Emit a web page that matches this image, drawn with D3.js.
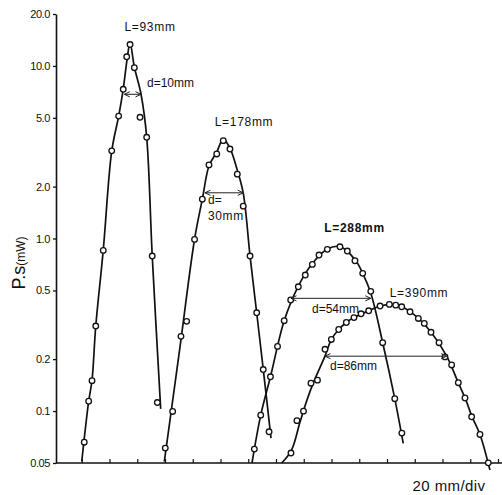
<!DOCTYPE html>
<html>
<head>
<meta charset="utf-8">
<script src="https://cdn.jsdelivr.net/npm/d3@7"></script>
<style>
  body { margin: 0; background: #fff; }
  text { font-family: "Liberation Sans", Arial, sans-serif; fill: #111; }
</style>
</head>
<body>
<svg id="chart" width="502" height="495"></svg>
<script>
// ---- axis ticks ----
const powerTicks = [20, 10, 5, 2, 1, 0.5, 0.2, 0.1, 0.05];
const powerTickLabels = ["20.0", "10.0", "5.0", "2.0", "1.0", "0.5", "0.2", "0.1", "0.05"];
const positionTicks = d3.range(20, 321, 20);   // 20 mm per division

// ---- L = 93 mm : measured points (position mm, P.s mW) and fitted curve ----
const l93Pos = [21.8, 25.0, 27.4, 30.1, 35.5, 41.6, 46.6, 49.9, 52.4, 54.8, 57.9, 62.0, 66.8, 70.8, 74.5];
const l93Pow = [0.066, 0.114, 0.150, 0.311, 0.853, 3.22, 5.12, 7.32, 11.3, 13.3, 9.77, 5.04, 3.86, 0.791, 0.112];
const l93FitPos = [20.0, 25.0, 27.4, 30.1, 35.5, 41.6, 46.6, 49.9, 52.6, 54.8, 57.9, 62.7, 66.8, 70.8, 76.9];
const l93FitPow = [0.051, 0.114, 0.151, 0.311, 0.857, 3.21, 5.12, 7.35, 10.8, 13.6, 9.86, 6.88, 3.87, 0.791, 0.103];

// ---- L = 178 mm ----
const l178Pos = [80.2, 85.5, 91.5, 95.6, 101.3, 106.9, 111.7, 117.3, 122.0, 126.8, 132.1, 136.4, 141.3, 146.1, 150.8, 155.0];
const l178Pow = [0.061, 0.0995, 0.271, 0.331, 0.988, 1.69, 2.67, 3.09, 3.69, 3.30, 2.36, 1.54, 0.791, 0.371, 0.174, 0.0758];
const l178FitPos = [79.5, 90.5, 101.3, 106.9, 111.7, 117.3, 122.0, 126.8, 132.1, 136.4, 141.3, 146.1, 150.8, 156.4];
const l178FitPow = [0.051, 0.2255, 0.99, 1.69, 2.63, 3.17, 3.77, 3.34, 2.49, 1.83, 0.791, 0.370, 0.175, 0.0697];

// ---- L = 288 mm ----
const l288Pos = [144.4, 149.0, 156.0, 161.1, 165.9, 170.6, 176.1, 181.1, 186.2, 191.0, 197.0, 206.1, 211.4, 216.9, 222.5, 228.3, 236.9, 245.6, 250.7];
const l288Pow = [0.0602, 0.0947, 0.158, 0.237, 0.334, 0.440, 0.525, 0.614, 0.708, 0.802, 0.865, 0.895, 0.846, 0.743, 0.628, 0.494, 0.249, 0.118, 0.0745];
const l288FitPos = [142.7, 149.0, 156.0, 165.9, 176.1, 186.2, 197.0, 206.1, 216.9, 222.5, 228.3, 236.9, 245.6, 251.7];
const l288FitPow = [0.050, 0.0947, 0.158, 0.334, 0.530, 0.716, 0.869, 0.897, 0.755, 0.628, 0.483, 0.249, 0.118, 0.0649];

// ---- L = 390 mm ----
const l390Pos = [170.8, 175.1, 179.8, 185.2, 189.9, 195.3, 199.9, 205.2, 210.7, 216.2, 221.3, 226.8, 235.0, 241.7, 246.3, 250.6, 256.6, 262.6, 266.9, 271.7, 277.5, 281.8, 286.6, 291.4, 296.2, 301.0, 307.0, 313.0];
const l390Pow = [0.0571, 0.088, 0.0999, 0.145, 0.151, 0.228, 0.260, 0.297, 0.326, 0.348, 0.366, 0.381, 0.406, 0.415, 0.411, 0.402, 0.376, 0.344, 0.322, 0.286, 0.249, 0.206, 0.185, 0.146, 0.119, 0.0926, 0.0732, 0.0501];
const l390FitPos = [164.1, 171.2, 177.3, 182.3, 187.4, 195.3, 200.0, 205.2, 210.7, 216.2, 226.8, 235.0, 243.6, 250.6, 256.6, 262.6, 271.7, 283.0, 291.2, 296.9, 301.3, 307.0, 314.2];
const l390FitPow = [0.050, 0.0594, 0.0863, 0.1157, 0.149, 0.208, 0.261, 0.297, 0.326, 0.348, 0.381, 0.406, 0.415, 0.402, 0.377, 0.345, 0.287, 0.208, 0.147, 0.1157, 0.0926, 0.0732, 0.0455];

// ---- beam-width arrows: label, from (mm), to (mm), level (mW) ----
const widthLabels = ["d=10mm", "d=30mm", "d=54mm", "d=86mm"];
const widthFrom = [50.7, 108.8, 170.8, 195.3];
const widthTo = [62.7, 136.4, 228.3, 283.0];
const widthLevel = [6.85, 1.84, 0.450, 0.208];

// ---- curve labels ----
const curveLabels = ["L=93mm", "L=178mm", "L=288mm", "L=390mm"];

const svg = d3.select("#chart");
svg.append("rect").attr("width", 502).attr("height", 495).attr("fill", "#fff");

const x = d3.scaleLinear().domain([0, 320]).range([54, 498]);
const y = d3.scaleLog().domain([0.05, 20]).range([463, 14]);
const axisX = 56;

// open arrowhead, tip at the line end, pointing outward
svg.append("defs").append("marker")
  .attr("id", "head")
  .attr("viewBox", "-7 -4 8 8")
  .attr("refX", 0).attr("refY", 0)
  .attr("markerWidth", 8).attr("markerHeight", 8)
  .attr("markerUnits", "userSpaceOnUse")
  .attr("orient", "auto-start-reverse")
  .append("path")
  .attr("d", "M-5.5,-2.6 L0,0 L-5.5,2.6")
  .attr("fill", "none").attr("stroke", "#222").attr("stroke-width", 1);

// y axis (logarithmic)
const yAxis = svg.append("g")
  .attr("transform", `translate(${axisX},0)`)
  .call(d3.axisLeft(y)
    .tickValues(powerTicks)
    .tickFormat((d, i) => powerTickLabels[i])
    .tickSizeInner(3).tickSizeOuter(0).tickPadding(3));
yAxis.select(".domain").attr("stroke", "#111").attr("stroke-width", 1.6);
yAxis.selectAll(".tick line").attr("stroke", "#111").attr("stroke-width", 1.3);
yAxis.selectAll(".tick text")
  .attr("font-family", "'Liberation Sans', Arial, sans-serif")
  .attr("font-size", 11).attr("letter-spacing", -0.4).attr("fill", "#111");

// x axis: baseline with small upward ticks, no labels
const xAxis = svg.append("g")
  .attr("transform", `translate(0,${y(0.05)})`)
  .call(d3.axisBottom(x).tickValues(positionTicks).tickFormat("").tickSizeInner(-4).tickSizeOuter(0));
xAxis.select(".domain").remove();
xAxis.selectAll(".tick line").attr("stroke", "#111").attr("stroke-width", 1.2);
xAxis.append("line")
  .attr("x1", axisX).attr("x2", 502).attr("y1", 0).attr("y2", 0)
  .attr("stroke", "#111").attr("stroke-width", 1.6);

// axis titles
svg.append("text")
  .attr("transform", "translate(25,263) rotate(-90)")
  .attr("text-anchor", "middle")
  .call(t => {
    t.append("tspan").attr("font-size", 18).text("P.s");
    t.append("tspan").attr("font-size", 12).text("(mW)");
  });
svg.append("text")
  .attr("x", 449).attr("y", 491)
  .attr("text-anchor", "middle")
  .attr("font-size", 15).attr("letter-spacing", 0.4)
  .text("20 mm/div");

// curves and measured points
const series = [
  { pos: l93Pos, pow: l93Pow, fitPos: l93FitPos, fitPow: l93FitPow },
  { pos: l178Pos, pow: l178Pow, fitPos: l178FitPos, fitPow: l178FitPow },
  { pos: l288Pos, pow: l288Pow, fitPos: l288FitPos, fitPow: l288FitPow },
  { pos: l390Pos, pow: l390Pow, fitPos: l390FitPos, fitPow: l390FitPow }
];

const line = d3.line()
  .x(d => x(d[0]))
  .y(d => y(d[1]))
  .curve(d3.curveCatmullRom.alpha(0.5));

series.forEach(s => {
  svg.append("path")
    .datum(s.fitPos.map((p, i) => [p, s.fitPow[i]]))
    .attr("d", line)
    .attr("fill", "none").attr("stroke", "#111").attr("stroke-width", 1.7);
});

series.forEach(s => {
  svg.append("g").selectAll("circle")
    .data(s.pos.map((p, i) => [p, s.pow[i]]))
    .join("circle")
    .attr("cx", d => x(d[0])).attr("cy", d => y(d[1]))
    .attr("r", 2.8)
    .attr("fill", "#fff").attr("stroke", "#111").attr("stroke-width", 1.3);
});

// width arrows
widthLabels.forEach((lab, i) => {
  svg.append("line")
    .attr("x1", x(widthFrom[i])).attr("x2", x(widthTo[i]))
    .attr("y1", y(widthLevel[i])).attr("y2", y(widthLevel[i]))
    .attr("stroke", "#222").attr("stroke-width", 1)
    .attr("marker-start", "url(#head)").attr("marker-end", "url(#head)");
});

// width labels
const fs = 12;
svg.append("text").attr("x", 147).attr("y", 87).attr("font-size", fs).text(widthLabels[0]);
svg.append("text").attr("x", 208).attr("y", 204).attr("font-size", fs).text("d=");
svg.append("text").attr("x", 208).attr("y", 220).attr("font-size", fs).attr("letter-spacing", 0.6).text("30mm");
svg.append("text").attr("x", 312).attr("y", 313).attr("font-size", fs).text(widthLabels[2]);
svg.append("text").attr("x", 330).attr("y", 370).attr("font-size", fs).text(widthLabels[3]);

// curve labels
const labX = [150, 244, 354.5, 419];
const labY = [31, 126, 231.5, 297];
curveLabels.forEach((lab, i) => {
  svg.append("text")
    .attr("x", labX[i]).attr("y", labY[i])
    .attr("text-anchor", "middle")
    .attr("font-size", fs)
    .attr("letter-spacing", 0.7)
    .attr("font-weight", i === 2 ? "bold" : "normal")
    .text(lab);
});
</script>
</body>
</html>
